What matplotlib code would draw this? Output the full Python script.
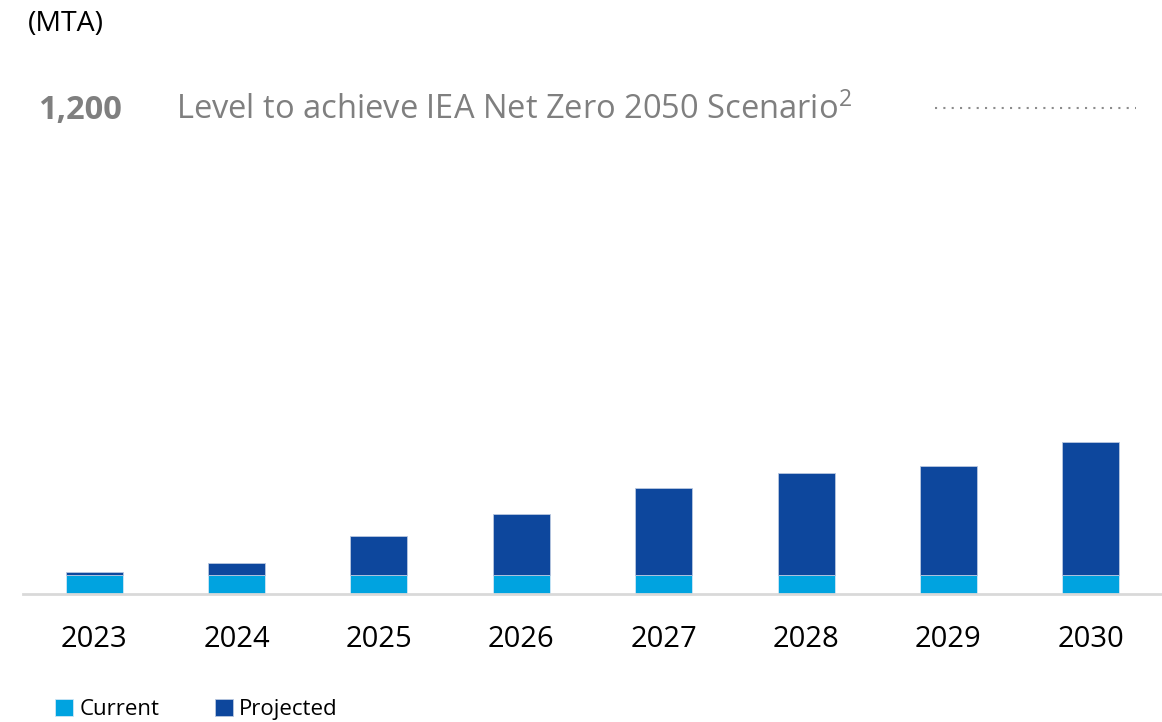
import matplotlib
matplotlib.use("Agg")
import matplotlib.pyplot as plt
import numpy as np

# values (MTA)
years = ['2023', '2024', '2025', '2026', '2027', '2028', '2029', '2030']
current = [47, 47, 47, 47, 47, 47, 47, 47]
projected = [8, 30, 95, 150, 214, 253, 268, 328]
target = 1200
target_label = '1,200'
target_text = r'Level to achieve IEA Net Zero 2050 Scenario$^{2}$'

light_blue = '#00A3E0'
dark_blue = '#0D479D'
grey_txt = '#7F7F7F'

plt.rcParams['font.family'] = ['Open Sans', 'DejaVu Sans']
plt.rcParams['mathtext.default'] = 'regular'

fig = plt.figure(figsize=(11.62, 7.22), dpi=100)
ax = fig.add_axes([23 / 1162, 128 / 722, 1 - 23 / 1162, 526.5 / 722])

x = np.arange(len(years))
ax.bar(x, current, width=0.4, color=light_blue, edgecolor='#cfe6f5', linewidth=0.6,
       label='Current')
ax.bar(x, projected, width=0.4, bottom=current, color=dark_blue, edgecolor='#b9c8e0',
       linewidth=0.6, label='Projected')

ax.set_xlim(-0.5, 7.5)
ax.set_ylim(0, 1300)
ax.set_xticks(x)
ax.set_xticklabels(years, fontsize=21)
ax.tick_params(axis='x', length=0, pad=22)
ax.set_yticks([])
for s in ['top', 'right', 'left']:
    ax.spines[s].set_visible(False)
ax.spines['bottom'].set_color('#D9D9D9')
ax.spines['bottom'].set_linewidth(2)

# net zero level
ax.axhline(target, xmin=0.801, xmax=0.977, color='#8c8c8c', linewidth=1.5,
           linestyle=(0, (1, 3)))
ax.text(0.013, target - 5, target_label, transform=ax.get_yaxis_transform(),
        fontsize=23.5, fontweight='bold', color=grey_txt, va='center', ha='left')
ax.text(0.134, target - 5, target_text, transform=ax.get_yaxis_transform(),
        fontsize=23.5, color=grey_txt, va='center', ha='left')

fig.text(0.024, 1 - 24 / 722, '(MTA)', fontsize=20.5, color='black', va='center', ha='left')

fig.legend(loc='lower left', bbox_to_anchor=(0.03, -0.025), ncol=2, frameon=False,
           fontsize=16, handlelength=0.8, handleheight=0.8, handletextpad=0.3,
           columnspacing=2.5)

fig.savefig('out.png', dpi=100)
